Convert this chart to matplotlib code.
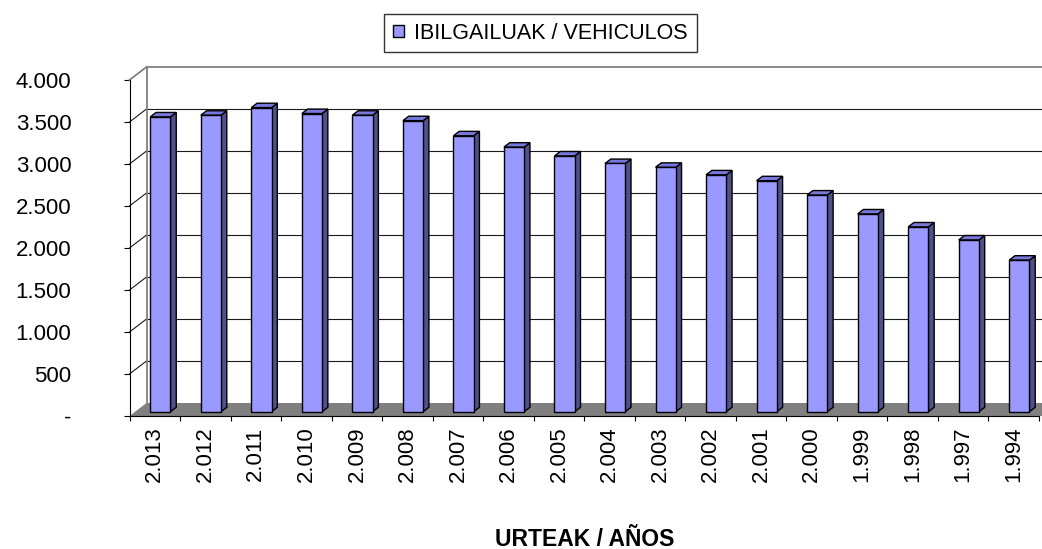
import matplotlib
matplotlib.use("Agg")
from matplotlib import pyplot as plt
from matplotlib.patches import Polygon, Patch
import numpy as np

plt.rcParams['font.family'] = ['Liberation Sans', 'DejaVu Sans']

# data
years = ["2.013", "2.012", "2.011", "2.010", "2.009", "2.008", "2.007", "2.006", "2.005",
         "2.004", "2.003", "2.002", "2.001", "2.000", "1.999", "1.998", "1.997", "1.994"]
vehicles = [3510, 3530, 3620, 3550, 3530, 3465, 3285, 3150, 3045,
            2955, 2910, 2820, 2750, 2580, 2355, 2200, 2045, 1805]
yticks = [0, 500, 1000, 1500, 2000, 2500, 3000, 3500, 4000]
ylabels = ["-", "500", "1.000", "1.500", "2.000", "2.500", "3.000", "3.500", "4.000"]

front = "#9999FF"
side = "#50508A"
top = "#7878DC"

W, H = 1042, 549
fig = plt.figure(figsize=(W / 100, H / 100), dpi=100)
ax = fig.add_axes([129.5 / W, (H - 416) / H, 909.5 / W, 336 / H])
n = len(years)
ax.set_xlim(0, n)
ax.set_ylim(0, 4000)

# depth of the fake 3d box, in data units
ddx = 17 / (909.5 / n)
ddy = 13 / (336 / 4000)

# floor
ax.add_patch(Polygon([(0, 0), (n + 1, 0), (n + 1 + ddx, ddy), (ddx, ddy)],
                     closed=True, facecolor="#808080", edgecolor="none", zorder=1, clip_on=False))

# back wall gridlines and left wall diagonals
for v in yticks[1:]:
    c = "#808080" if v == 4000 else "#1a1a1a"
    lw = 1.3 if v == 4000 else 0.8
    ax.plot([ddx, n + 1 + ddx], [v + ddy, v + ddy], color=c, lw=lw, zorder=2, clip_on=False)
    ax.plot([0, ddx], [v, v + ddy], color=c, lw=lw, zorder=2, clip_on=False)
ax.plot([ddx, ddx], [ddy, 4000 + ddy], color="#808080", lw=1.3, zorder=2, clip_on=False)

# bars
bw = 0.4
d0 = 0.33
d1 = 0.34
x0 = np.arange(n) + 0.3 + d0 * ddx
y0 = d0 * ddy
ax.bar(x0, vehicles, width=bw, bottom=y0, align="edge", color=front,
       edgecolor="black", linewidth=1.0, zorder=4, clip_on=False)
for xi, v in zip(x0, vehicles):
    xr = xi + bw
    ax.add_patch(Polygon([(xr, y0), (xr, y0 + v), (xr + d1 * ddx, y0 + v + d1 * ddy),
                          (xr + d1 * ddx, y0 + d1 * ddy)],
                         closed=True, facecolor=side, edgecolor="black", lw=1.0, zorder=3, clip_on=False))
    ax.add_patch(Polygon([(xi, y0 + v), (xr, y0 + v), (xr + d1 * ddx, y0 + v + d1 * ddy),
                          (xi + d1 * ddx, y0 + v + d1 * ddy)],
                         closed=True, facecolor=top, edgecolor="black", lw=1.0, zorder=3, clip_on=False))

# axes
ax.spines["top"].set_visible(False)
ax.spines["right"].set_visible(False)
ax.spines["left"].set_color("black")
ax.spines["bottom"].set_color("black")
ax.spines["left"].set_zorder(5)
ax.spines["bottom"].set_zorder(5)
ax.set_yticks(yticks)
ax.set_yticklabels(ylabels, fontsize=16)
ax.tick_params(axis="y", length=4.3, pad=37.5)
ax.set_xticks(np.arange(n + 1))
ax.set_xticklabels([])
ax.tick_params(axis="x", which="major", length=3.6)
ax.set_xticks(np.arange(n) + 0.5, minor=True)
ax.set_xticklabels(years, minor=True, rotation=90, fontsize=16)
ax.tick_params(axis="x", which="minor", length=0, pad=7.5)
ax.patch.set_visible(False)

fig.text(585 / W, 1 - 539 / H, "URTEAK / AÑOS", ha="center", va="center",
         fontsize=16.5, fontweight="bold")

handle = Patch(facecolor=front, edgecolor="black", linewidth=1.0)
leg = fig.legend([handle], ["IBILGAILUAK / VEHICULOS"], loc="center",
                 bbox_to_anchor=(540.5 / W, 1 - 33.3 / H), fontsize=15.5,
                 frameon=True, fancybox=False, shadow=False, handlelength=0.5,
                 handleheight=0.5, handletextpad=0.5, borderpad=0.4, borderaxespad=0)
leg.get_frame().set_edgecolor("black")
leg.get_frame().set_linewidth(1.0)

fig.savefig("out.png", dpi=100)
